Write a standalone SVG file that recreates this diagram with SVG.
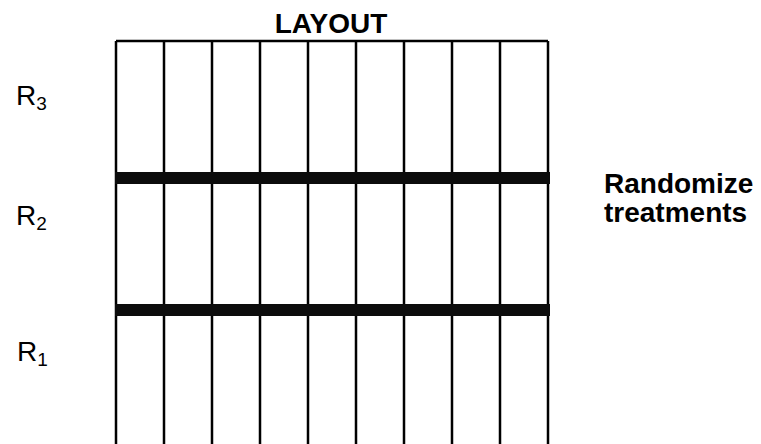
<svg xmlns="http://www.w3.org/2000/svg" width="761" height="444" viewBox="0 0 761 444">
<style>
.v{stroke:#000;stroke-width:2.5;fill:none}
.bar{fill:#0c0c0c}
.t{font-family:"Liberation Sans",Arial,sans-serif;fill:#000}
.b{font-weight:bold}
</style>
<rect width="761" height="444" fill="#fff"/>
<g id="grid">
<line class="v" x1="116" y1="41" x2="548" y2="41"/>
<line class="v" x1="116" y1="41" x2="116" y2="444"/>
<line class="v" x1="164" y1="41" x2="164" y2="444"/>
<line class="v" x1="212" y1="41" x2="212" y2="444"/>
<line class="v" x1="260" y1="41" x2="260" y2="444"/>
<line class="v" x1="308" y1="41" x2="308" y2="444"/>
<line class="v" x1="356" y1="41" x2="356" y2="444"/>
<line class="v" x1="404" y1="41" x2="404" y2="444"/>
<line class="v" x1="452" y1="41" x2="452" y2="444"/>
<line class="v" x1="500" y1="41" x2="500" y2="444"/>
<line class="v" x1="548" y1="41" x2="548" y2="444"/>
<rect class="bar" x="115" y="172" width="435" height="12"/>
<rect class="bar" x="115" y="304" width="435" height="12"/>
</g>
<g id="title"><text class="t b" x="331" y="33" font-size="28" text-anchor="middle">LAYOUT</text></g>
<g id="r3"><text class="t" x="16" y="105" font-size="28">R<tspan font-size="19" dy="5">3</tspan></text></g>
<g id="r2"><text class="t" x="16" y="225" font-size="28">R<tspan font-size="19" dy="5">2</tspan></text></g>
<g id="r1"><text class="t" x="17" y="361" font-size="28">R<tspan font-size="19" dy="5">1</tspan></text></g>
<g id="note"><text class="t b" x="604" y="193" font-size="28">Randomize</text><text class="t b" x="604" y="222" font-size="28">treatments</text></g>
</svg>
